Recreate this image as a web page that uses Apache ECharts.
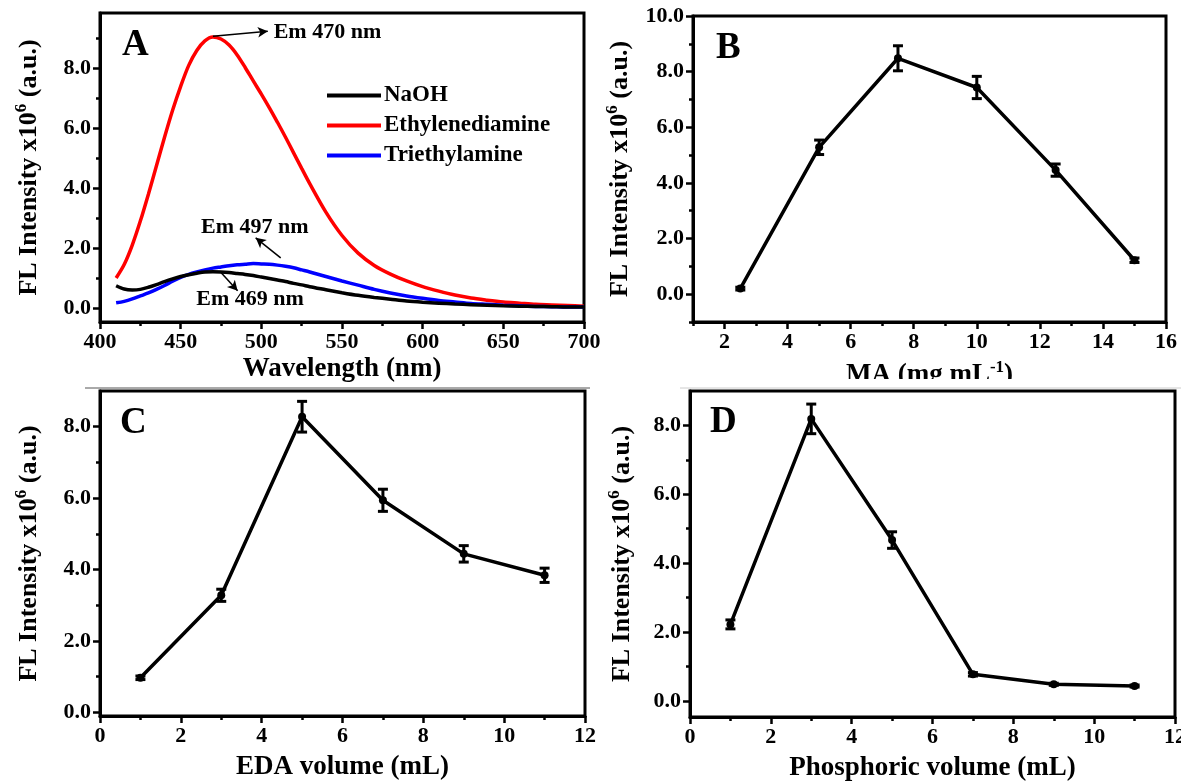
<!DOCTYPE html>
<html>
<head>
<meta charset="utf-8">
<script src="https://cdn.jsdelivr.net/npm/echarts@6/dist/echarts.min.js"></script>
<style>
  html, body { margin: 0; padding: 0; background: #fff; }
  #chart { width: 1181px; height: 783px; }
</style>
</head>
<body>
<div id="chart"></div>
<script>
// 패널 A: 발광 스펙트럼 (nm, x10^6 a.u.)
const wavelength = [410, 415, 420, 425, 430, 435, 440, 445, 450, 455, 460, 465, 470, 475, 480, 485, 490, 495, 500, 505, 510, 515, 520, 525, 530, 540, 550, 560, 570, 580, 590, 600, 610, 620, 630, 640, 650, 660, 670, 680, 690, 700];
const naohFL = [0.74, 0.63, 0.60, 0.62, 0.69, 0.78, 0.88, 0.97, 1.05, 1.11, 1.16, 1.20, 1.21, 1.20, 1.18, 1.15, 1.12, 1.08, 1.03, 0.98, 0.93, 0.88, 0.82, 0.77, 0.71, 0.61, 0.51, 0.42, 0.35, 0.29, 0.23, 0.19, 0.16, 0.13, 0.11, 0.09, 0.07, 0.06, 0.05, 0.04, 0.03, 0.03];
const ethylenediamineFL = [1.00, 1.45, 2.10, 2.90, 3.80, 4.75, 5.70, 6.60, 7.40, 8.10, 8.60, 8.92, 9.05, 8.98, 8.78, 8.45, 8.03, 7.58, 7.14, 6.68, 6.20, 5.70, 5.18, 4.66, 4.15, 3.20, 2.42, 1.83, 1.42, 1.13, 0.90, 0.71, 0.56, 0.43, 0.33, 0.26, 0.20, 0.16, 0.12, 0.10, 0.08, 0.06];
const triethylamineFL = [0.17, 0.22, 0.30, 0.40, 0.50, 0.62, 0.75, 0.89, 1.02, 1.12, 1.20, 1.27, 1.33, 1.37, 1.41, 1.44, 1.46, 1.48, 1.47, 1.46, 1.43, 1.39, 1.34, 1.27, 1.20, 1.05, 0.90, 0.76, 0.62, 0.50, 0.40, 0.32, 0.25, 0.20, 0.15, 0.12, 0.09, 0.07, 0.05, 0.04, 0.03, 0.03];
const spectraNames = ['NaOH', 'Ethylenediamine', 'Triethylamine'];

// 패널 A 주석 (데이터 좌표)
const noteTexts = ['Em 470 nm', 'Em 497 nm', 'Em 469 nm'];
const notePos = [[541, 9.2], [496, 2.68], [493, 0.3]];
const noteArrows = [
  [[470, 9.07], [504, 9.24]],
  [[512, 1.67], [496.5, 2.34]],
  [[474.7, 1.2], [485.3, 0.57]]
];

// 패널 B: MA 농도
const maConc = [2.5, 5, 7.5, 10, 12.5, 15];
const maFL = [0.2, 5.28, 8.48, 7.43, 4.46, 1.22];
const maErr = [0.05, 0.26, 0.45, 0.4, 0.22, 0.08];

// 패널 C: EDA 부피
const edaVol = [1, 3, 5, 7, 9, 11];
const edaFL = [0.97, 3.28, 8.28, 5.94, 4.44, 3.84];
const edaErr = [0.05, 0.17, 0.43, 0.31, 0.23, 0.2];

// 패널 D: 인산 부피
const phosVol = [1, 3, 5, 7, 9, 11];
const phosFL = [2.22, 8.19, 4.67, 0.77, 0.48, 0.43];
const phosErr = [0.13, 0.43, 0.24, 0.05, 0.03, 0.03];

// 눈금
const aXTicks = [400, 450, 500, 550, 600, 650, 700];
const aXMinor = [425, 475, 525, 575, 625, 675];
const aYTicks = [0, 2, 4, 6, 8];
const aYMinor = [1, 3, 5, 7, 9];
const bXTicks = [2, 4, 6, 8, 10, 12, 14, 16];
const bXMinor = [1, 3, 5, 7, 9, 11, 13, 15];
const bYTicks = [0, 2, 4, 6, 8, 10];
const bYMinor = [-1, 1, 3, 5, 7, 9];
const volXTicks = [0, 2, 4, 6, 8, 10, 12];
const volXMinor = [1, 3, 5, 7, 9, 11];
const volYTicks = [0, 2, 4, 6, 8];
const volYMinor = [1, 3, 5, 7];

const FONT = '"Liberation Serif", "Times New Roman", serif';

const yName = '{a|FL Intensity x10}{s|6}{a| (a.u.)}';
const yRich = {
  a: { fontFamily: FONT, fontWeight: 'bold', fontSize: 26, color: '#000' },
  s: { fontFamily: FONT, fontWeight: 'bold', fontSize: 17, color: '#000', padding: [0, 0, 15, 0] }
};
const xRich = {
  a: { fontFamily: FONT, fontWeight: 'bold', fontSize: 27, color: '#000' },
  s: { fontFamily: FONT, fontWeight: 'bold', fontSize: 17, color: '#000', padding: [0, 0, 15, 0] }
};

function majorAxis(gridIndex, min, max, ticks, isY, name, nameGap) {
  return {
    type: 'value',
    gridIndex: gridIndex,
    min: min,
    max: max,
    position: isY ? 'left' : 'bottom',
    name: name,
    nameLocation: 'middle',
    nameGap: nameGap,
    nameTextStyle: { rich: isY ? yRich : xRich },
    axisLine: { show: true, onZero: false, lineStyle: { color: '#000', width: 3 } },
    axisTick: { show: true, customValues: ticks, length: 7, lineStyle: { color: '#000', width: 2.5 } },
    axisLabel: {
      customValues: ticks,
      margin: 9,
      color: '#000',
      fontFamily: FONT,
      fontWeight: 'bold',
      fontSize: 22,
      formatter: isY ? function (v) { return v.toFixed(1); } : function (v) { return String(v); }
    },
    splitLine: { show: false }
  };
}

function minorAxis(gridIndex, min, max, ticks, isY) {
  return {
    type: 'value',
    gridIndex: gridIndex,
    min: min,
    max: max,
    position: isY ? 'left' : 'bottom',
    axisLine: { show: false, onZero: false },
    axisTick: { show: true, customValues: ticks, length: 4, lineStyle: { color: '#000', width: 2.5 } },
    axisLabel: { show: false },
    splitLine: { show: false }
  };
}

// 오차 막대 그리기
function renderErrorBar(params, api) {
  const x = api.value(0), y = api.value(1), e = api.value(2);
  const top = api.coord([x, y + e]);
  const bot = api.coord([x, y - e]);
  const hw = 5;
  const style = { stroke: '#000', lineWidth: 3 };
  return {
    type: 'group',
    children: [
      { type: 'line', shape: { x1: top[0], y1: top[1], x2: bot[0], y2: bot[1] }, style: style },
      { type: 'line', shape: { x1: top[0] - hw, y1: top[1], x2: top[0] + hw, y2: top[1] }, style: style },
      { type: 'line', shape: { x1: bot[0] - hw, y1: bot[1], x2: bot[0] + hw, y2: bot[1] }, style: style }
    ]
  };
}

function zip(xs, ys) {
  return xs.map(function (x, i) { return [x, ys[i]]; });
}

function pointSeries(axisIndex, xs, ys, errs) {
  return [
    {
      type: 'line',
      xAxisIndex: axisIndex,
      yAxisIndex: axisIndex,
      data: zip(xs, ys),
      symbol: 'circle',
      symbolSize: 8,
      itemStyle: { color: '#000' },
      lineStyle: { color: '#000', width: 3.5 },
      animation: false,
      z: 3
    },
    {
      type: 'custom',
      xAxisIndex: axisIndex,
      yAxisIndex: axisIndex,
      data: xs.map(function (x, i) { return [x, ys[i], errs[i]]; }),
      encode: { x: 0, y: 1 },
      renderItem: renderErrorBar,
      animation: false,
      z: 4
    }
  ];
}

const grids = [
  { left: 100, top: 13, width: 484, height: 309 },
  { left: 693, top: 16, width: 473, height: 306 },
  { left: 100, top: 391, width: 485, height: 325 },
  { left: 690, top: 391, width: 485, height: 326 }
].map(function (g) {
  return Object.assign({ show: true, borderColor: '#000', borderWidth: 3, backgroundColor: 'transparent', containLabel: false, outerBoundsMode: 'none' }, g);
});

const xAxes = [
  majorAxis(0, 400, 700, aXTicks, false, '{a|Wavelength (nm)}', 34),
  minorAxis(0, 400, 700, aXMinor, false),
  majorAxis(1, 1, 16, bXTicks, false, '{a|MA (mg mL}{s|-1}{a|)}', 37),
  minorAxis(1, 1, 16, bXMinor, false),
  majorAxis(2, 0, 12, volXTicks, false, '{a|EDA volume (mL)}', 38),
  minorAxis(2, 0, 12, volXMinor, false),
  majorAxis(3, 0, 12, volXTicks, false, '{a|Phosphoric volume (mL)}', 38),
  minorAxis(3, 0, 12, volXMinor, false)
];

const yAxes = [
  majorAxis(0, -0.47, 9.85, aYTicks, true, yName, 55),
  minorAxis(0, -0.47, 9.85, aYMinor, true),
  majorAxis(1, -1, 10, bYTicks, true, yName, 57),
  minorAxis(1, -1, 10, bYMinor, true),
  majorAxis(2, -0.1, 9, volYTicks, true, yName, 55),
  minorAxis(2, -0.1, 9, volYMinor, true),
  majorAxis(3, -0.47, 9, volYTicks, true, yName, 52),
  minorAxis(3, -0.47, 9, volYMinor, true)
];

const spectraColors = ['#000000', '#ff0000', '#0000ff'];
const spectraData = [naohFL, ethylenediamineFL, triethylamineFL];

const series = spectraData.map(function (vals, i) {
  return {
    name: spectraNames[i],
    type: 'line',
    xAxisIndex: 0,
    yAxisIndex: 0,
    data: zip(wavelength, vals),
    smooth: 0.3,
    showSymbol: false,
    symbol: 'none',
    lineStyle: { color: spectraColors[i], width: 3.5 },
    itemStyle: { color: spectraColors[i] },
    animation: false,
    z: i === 0 ? 3 : 2
  };
});

// 주석 화살표와 글자
series.push({
  type: 'line',
  xAxisIndex: 0,
  yAxisIndex: 0,
  data: [],
  animation: false,
  markLine: {
    silent: true,
    symbol: ['none', 'arrow'],
    symbolSize: [8, 10],
    label: { show: false },
    lineStyle: { color: '#000', width: 1.5, type: 'solid' },
    data: noteArrows.map(function (a) {
      return [{ coord: a[0] }, { coord: a[1] }];
    })
  }
});
series.push({
  type: 'scatter',
  xAxisIndex: 0,
  yAxisIndex: 0,
  data: notePos.map(function (p, i) { return [p[0], p[1], noteTexts[i]]; }),
  symbolSize: 0,
  silent: true,
  animation: false,
  itemStyle: { opacity: 1, color: '#000' },
  label: {
    show: true,
    position: 'inside',
    formatter: function (p) { return p.value[2]; },
    color: '#000',
    textBorderWidth: 0,
    fontFamily: FONT,
    fontWeight: 'bold',
    fontSize: 22
  },
  z: 5
});

Array.prototype.push.apply(series, pointSeries(2, maConc, maFL, maErr));
Array.prototype.push.apply(series, pointSeries(4, edaVol, edaFL, edaErr));
Array.prototype.push.apply(series, pointSeries(6, phosVol, phosFL, phosErr));

const letterStyle = { fontFamily: FONT, fontWeight: 'bold', fontSize: 37, color: '#000' };

const option = {
  backgroundColor: '#fff',
  animation: false,
  title: [
    { text: 'A', left: 122, top: 27, padding: 0, textStyle: letterStyle },
    { text: 'B', left: 716, top: 30, padding: 0, textStyle: letterStyle },
    { text: 'C', left: 120, top: 405, padding: 0, textStyle: letterStyle },
    { text: 'D', left: 710, top: 404, padding: 0, textStyle: letterStyle }
  ],
  legend: {
    data: spectraNames,
    orient: 'vertical',
    left: 327,
    top: 84,
    itemWidth: 54,
    itemHeight: 4,
    itemGap: 7,
    icon: 'rect',
    padding: 0,
    textStyle: { fontFamily: FONT, fontWeight: 'bold', fontSize: 23, color: '#000', padding: [0, 0, 0, -2] }
  },
  grid: grids,
  xAxis: xAxes,
  yAxis: yAxes,
  series: series,
  graphic: [
    // 원본 이미지의 잘린 부분과 구분선
    { type: 'rect', z: 100, shape: { x: 600, y: 379, width: 581, height: 10 }, style: { fill: '#fff' } },
    { type: 'line', z: 101, shape: { x1: 85, y1: 388, x2: 590, y2: 388 }, style: { stroke: '#555', lineWidth: 1 } },
    { type: 'line', z: 101, shape: { x1: 680, y1: 388, x2: 1181, y2: 388 }, style: { stroke: '#ccc', lineWidth: 1 } }
  ]
};

var myChart = echarts.init(document.getElementById('chart'));
myChart.setOption(option);

window.addEventListener('resize', function () {
  myChart.resize();
});
</script>
</body>
</html>
